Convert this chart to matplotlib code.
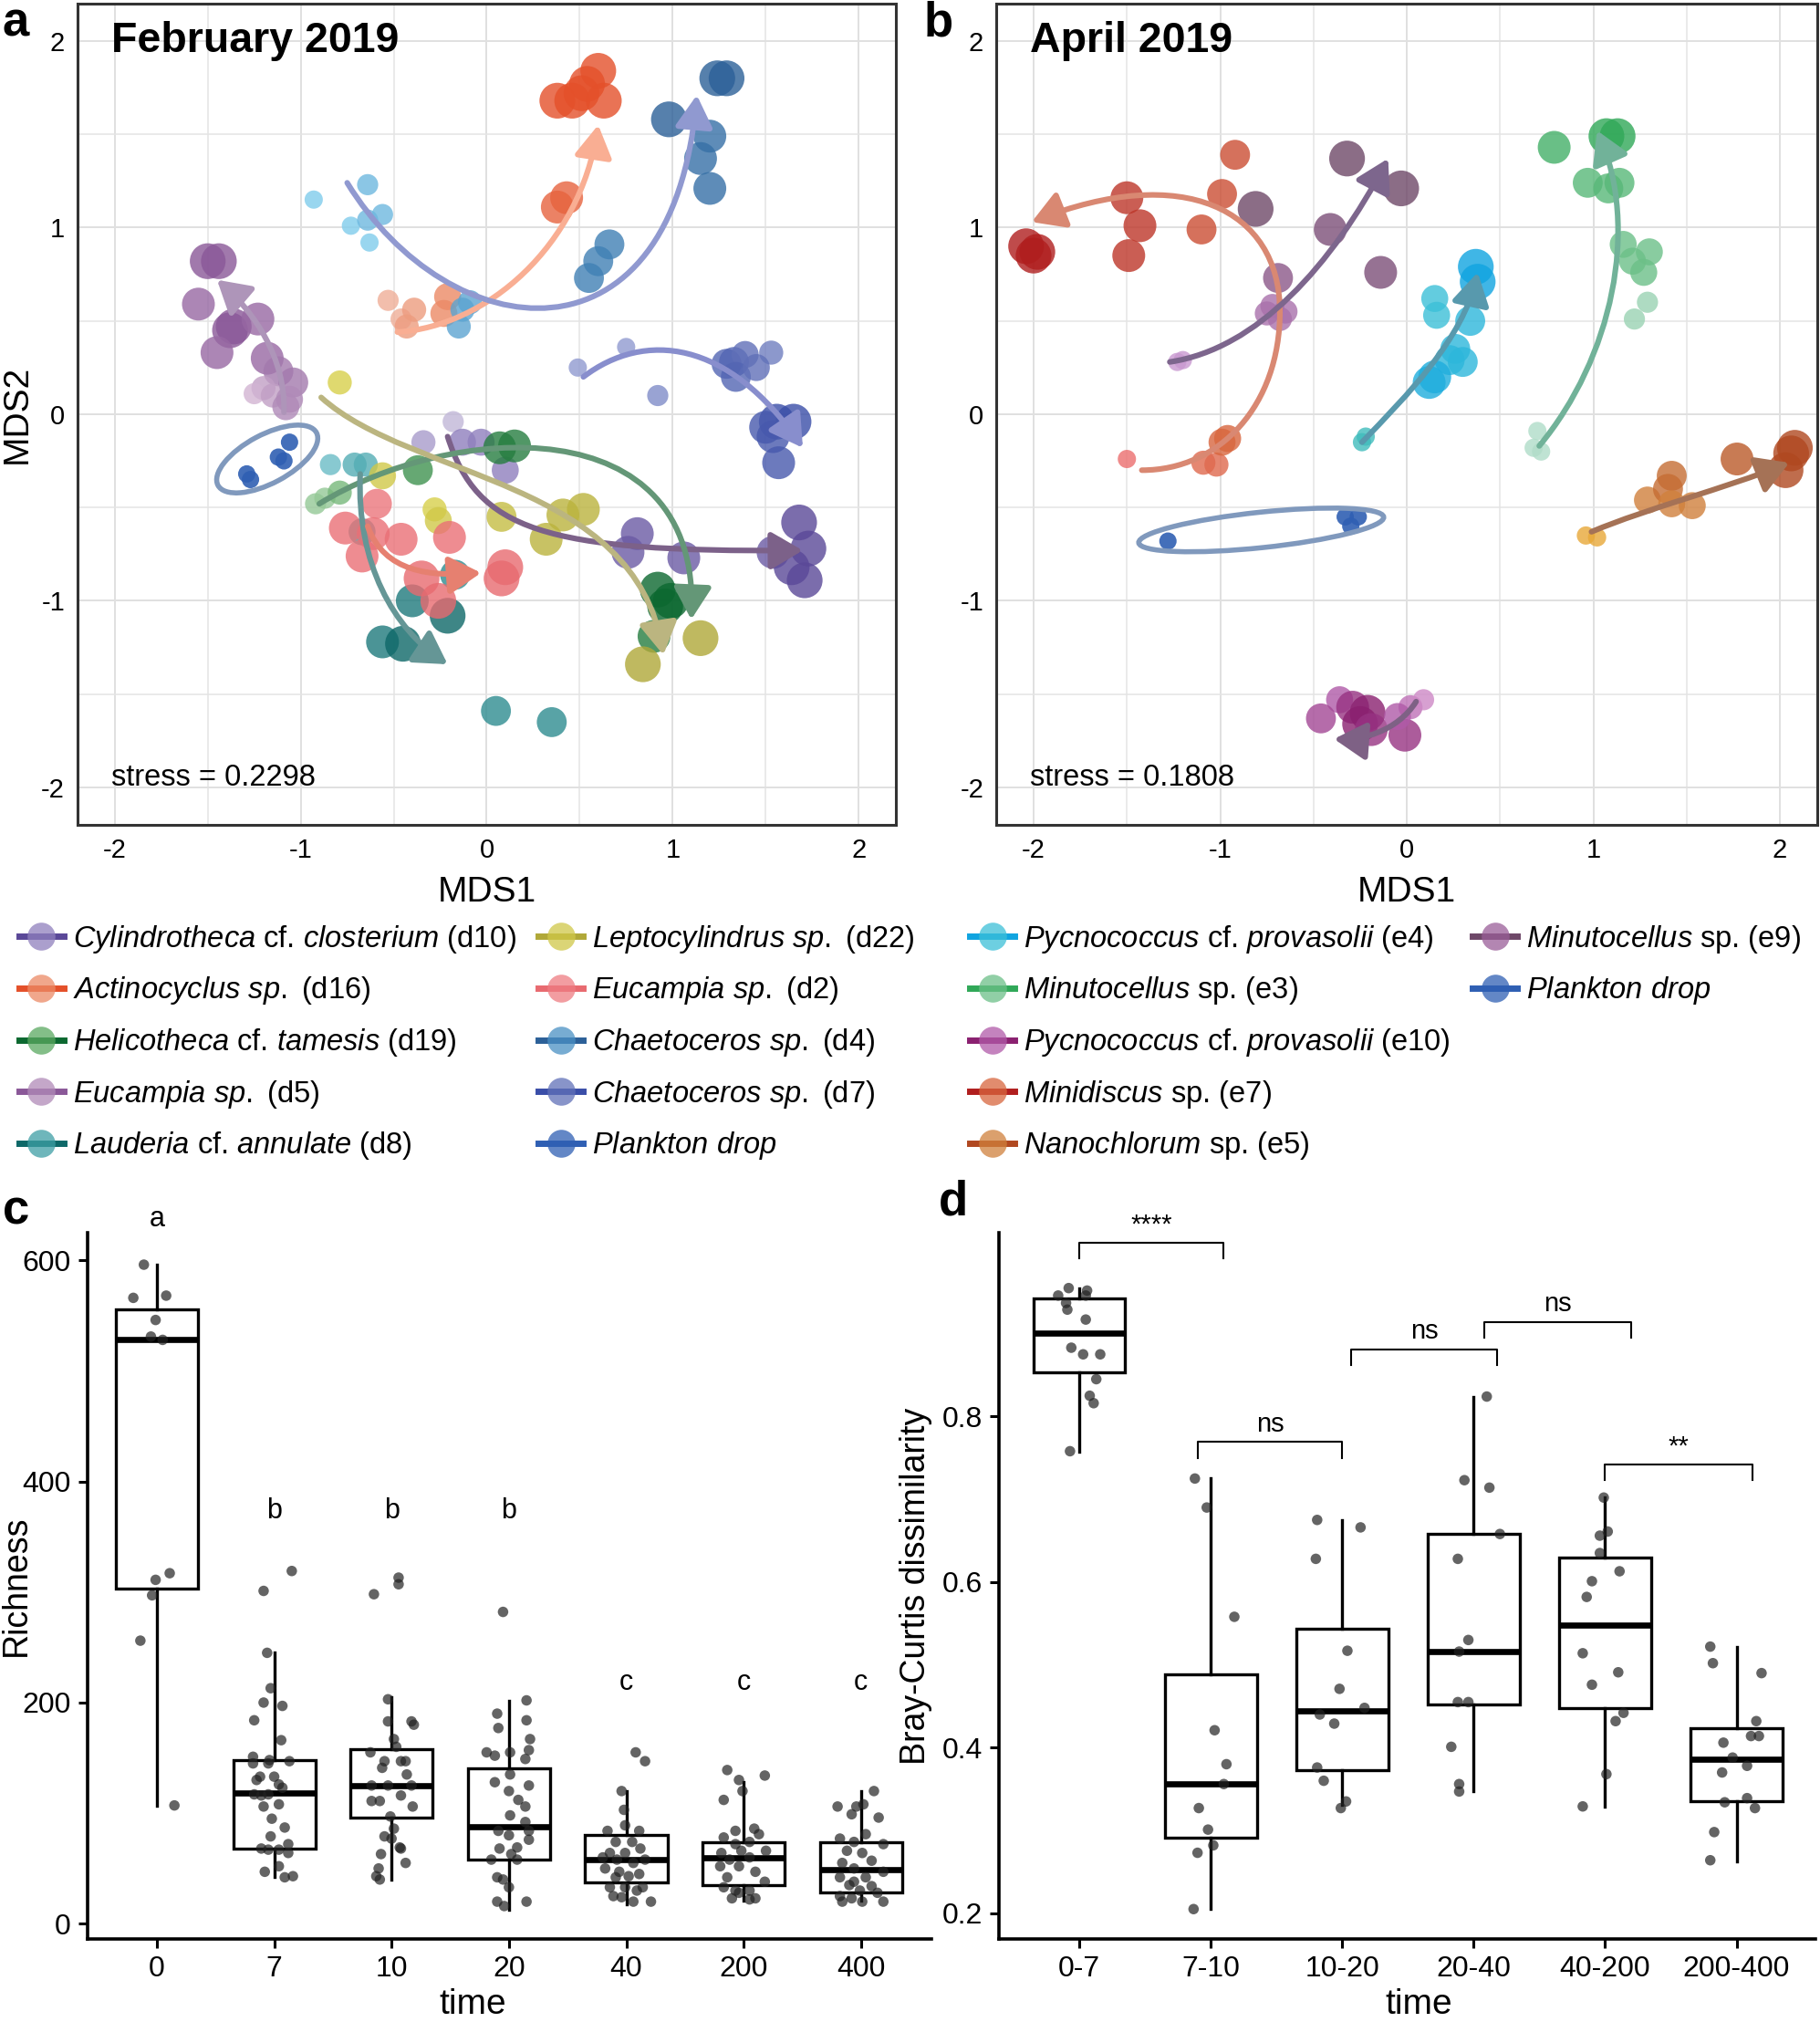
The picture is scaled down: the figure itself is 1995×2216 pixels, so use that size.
import matplotlib
matplotlib.use("Agg")
import matplotlib.pyplot as plt
from matplotlib.colors import LinearSegmentedColormap, to_rgba, to_rgb
from matplotlib.lines import Line2D
from matplotlib.patches import FancyArrowPatch, Ellipse
from matplotlib.path import Path

plt.rcParams["font.family"] = ["Liberation Sans", "DejaVu Sans"]
plt.rcParams["mathtext.fontset"] = "custom"
plt.rcParams["mathtext.rm"] = "Liberation Sans"
plt.rcParams["mathtext.it"] = "Liberation Sans:italic"
plt.rcParams["axes.unicode_minus"] = False

# ---------------- panel a : February 2019 (x, y, time stage 0..6) ----------------
D10_X = [-0.18, -0.34, -0.13, -0.03, 0.10, 0.81, 0.76, 1.06, 1.54, 1.68, 1.73, 1.64, 1.71]
D10_Y = [-0.04, -0.15, -0.15, -0.15, -0.30, -0.64, -0.74, -0.77, -0.74, -0.58, -0.72, -0.82, -0.89]
D10_T = [1, 2, 3, 3, 3, 5, 5, 5, 5, 6, 6, 6, 6]

D16_X = [-0.53, -0.46, -0.43, -0.39, -0.21, -0.23, 0.43, 0.38, 0.60, 0.54, 0.51, 0.46, 0.38, 0.63]
D16_Y = [0.61, 0.51, 0.47, 0.56, 0.63, 0.54, 1.16, 1.11, 1.84, 1.77, 1.72, 1.68, 1.68, 1.68]
D16_T = [1, 1, 2, 2, 3, 3, 5, 5, 6, 6, 6, 6, 6, 6]

D19_X = [-0.92, -0.87, -0.79, -0.37, 0.07, 0.15, 0.92, 0.96, 0.99, 0.90]
D19_Y = [-0.48, -0.45, -0.42, -0.30, -0.18, -0.17, -0.94, -1.03, -1.00, -1.19]
D19_T = [1, 1, 2, 4, 5, 5, 6, 6, 6, 5]

D5_X = [-1.44, -1.50, -1.55, -1.38, -1.36, -1.45, -1.23, -1.18, -1.12, -1.04, -1.20, -1.25, -1.15, -1.06, -1.08]
D5_Y = [0.82, 0.82, 0.59, 0.45, 0.47, 0.33, 0.51, 0.30, 0.23, 0.17, 0.14, 0.11, 0.10, 0.08, 0.04]
D5_T = [6, 6, 5, 6, 6, 5, 5, 5, 4, 4, 2, 1, 2, 3, 3]

D8_X = [-0.84, -0.71, -0.65, -0.67, -0.17, -0.40, -0.56, -0.45, -0.21, 0.05, 0.35]
D8_Y = [-0.27, -0.27, -0.27, -0.63, -0.86, -1.00, -1.22, -1.23, -1.08, -1.59, -1.65]
D8_T = [1, 2, 2, 3, 4, 5, 5, 6, 6, 4, 4]

D22_X = [-0.79, -0.56, -0.28, -0.26, 0.08, 0.32, 0.41, 0.52, 0.84, 1.15]
D22_Y = [0.17, -0.33, -0.51, -0.57, -0.55, -0.67, -0.54, -0.51, -1.34, -1.20]
D22_T = [2, 3, 2, 3, 4, 5, 5, 5, 6, 6]

D2_X = [-0.59, -0.76, -0.61, -0.46, -0.67, -0.20, 0.10, 0.08, -0.35, -0.26]
D2_Y = [-0.48, -0.61, -0.64, -0.67, -0.76, -0.66, -0.82, -0.88, -0.88, -1.00]
D2_T = [4, 5, 5, 5, 5, 5, 6, 6, 6, 6]

D4_X = [-0.93, -0.64, -0.73, -0.64, -0.56, -0.63, -0.13, -0.15, -0.09, 0.55, 0.60, 0.66, 0.98, 1.20, 1.15, 1.20, 1.24, 1.29]
D4_Y = [1.15, 1.23, 1.01, 1.04, 1.07, 0.92, 0.56, 0.47, 0.60, 0.73, 0.82, 0.91, 1.58, 1.49, 1.37, 1.21, 1.80, 1.80]
D4_T = [0, 1, 0, 1, 1, 0, 2, 2, 2, 4, 4, 4, 6, 5, 5, 5, 6, 6]

D7_X = [0.49, 0.75, 0.92, 1.29, 1.33, 1.39, 1.53, 1.34, 1.45, 1.56, 1.65, 1.54, 1.57, 1.50]
D7_Y = [0.25, 0.36, 0.10, 0.27, 0.28, 0.32, 0.33, 0.20, 0.25, -0.04, -0.04, -0.12, -0.26, -0.07]
D7_T = [0, 0, 1, 4, 4, 3, 2, 4, 3, 6, 6, 5, 5, 5]

DROP_A_X = [-1.29, -1.27, -1.12, -1.09, -1.06]
DROP_A_Y = [-0.32, -0.35, -0.23, -0.25, -0.15]

# trajectory arrows (cubic bezier control points)
D10_ARROW = [(-0.21, -0.12), (-0.05, -0.62), (0.30, -0.74), (1.70, -0.73)]
D16_ARROW = [(-0.48, 0.44), (0.0, 0.47), (0.50, 0.90), (0.60, 1.55)]
D19_ARROW = [(-0.90, -0.48), (-0.20, -0.05), (1.15, 0.05), (1.10, -1.10)]
D5_ARROW = [(-1.09, 0.01), (-1.08, 0.30), (-1.25, 0.55), (-1.45, 0.72)]
D8_ARROW = [(-0.68, -0.32), (-0.70, -0.80), (-0.50, -1.15), (-0.21, -1.34)]
D22_ARROW = [(-0.89, 0.09), (-0.40, -0.35), (0.80, -0.35), (0.95, -1.29)]
D2_ARROW = [(-0.64, -0.60), (-0.55, -0.85), (-0.30, -0.87), (-0.03, -0.85)]
D4_ARROW = [(-0.75, 1.24), (-0.20, 0.35), (1.00, 0.20), (1.13, 1.71)]
D7_ARROW = [(0.52, 0.20), (0.85, 0.45), (1.30, 0.40), (1.70, -0.18)]

# ---------------- panel b : April 2019 ----------------
E4_X = [-0.24, -0.22, 0.15, 0.16, 0.34, 0.26, 0.23, 0.12, 0.15, 0.30, 0.37, 0.38]
E4_Y = [-0.15, -0.12, 0.62, 0.53, 0.50, 0.35, 0.29, 0.17, 0.20, 0.28, 0.79, 0.71]
E4_T = [0, 0, 3, 3, 4, 4, 4, 5, 5, 4, 6, 6]

E3_X = [0.68, 0.70, 0.72, 1.22, 1.29, 1.16, 1.30, 1.21, 1.27, 0.97, 1.08, 1.14, 0.79, 1.07, 1.13]
E3_Y = [-0.18, -0.09, -0.20, 0.51, 0.60, 0.91, 0.87, 0.82, 0.76, 1.24, 1.21, 1.24, 1.43, 1.49, 1.49]
E3_T = [0, 0, 0, 1, 1, 3, 3, 3, 3, 4, 4, 4, 5, 6, 6]

E10_X = [-0.36, -0.46, -0.29, -0.21, -0.25, -0.19, -0.01, 0.02, 0.09, -0.05]
E10_Y = [-1.53, -1.63, -1.57, -1.60, -1.66, -1.69, -1.72, -1.57, -1.53, -1.62]
E10_T = [3, 4, 5, 6, 6, 5, 5, 2, 1, 3]

E7_X = [-1.50, -1.09, -1.02, -0.99, -0.96, -0.92, -0.99, -1.10, -1.50, -1.43, -1.49, -2.04, -2.00, -1.98]
E7_Y = [-0.24, -0.26, -0.27, -0.15, -0.13, 1.39, 1.18, 0.99, 1.16, 1.01, 0.85, 0.90, 0.85, 0.87]
E7_T = [0, 2, 2, 3, 3, 4, 4, 4, 5, 5, 5, 6, 6, 6]

E5_X = [0.96, 1.02, 1.29, 1.42, 1.40, 1.42, 1.53, 1.77, 2.06, 2.03, 2.08]
E5_Y = [-0.65, -0.66, -0.46, -0.33, -0.40, -0.48, -0.49, -0.24, -0.21, -0.30, -0.18]
E5_T = [0, 0, 3, 4, 4, 3, 3, 5, 6, 6, 6]

E9_X = [-1.23, -1.20, -0.75, -0.72, -0.68, -0.65, -0.69, -0.81, -0.41, -0.32, -0.03, -0.14]
E9_Y = [0.28, 0.29, 0.54, 0.58, 0.51, 0.55, 0.73, 1.10, 0.99, 1.37, 1.21, 0.76]
E9_T = [0, 0, 2, 2, 2, 2, 4, 6, 5, 6, 6, 5]

DROP_B_X = [-1.28, -0.33, -0.26, -0.30]
DROP_B_Y = [-0.68, -0.55, -0.55, -0.60]

E4_ARROW = [(-0.24, -0.15), (0.0, 0.10), (0.30, 0.40), (0.38, 0.76)]
E3_ARROW = [(0.71, -0.17), (1.10, 0.30), (1.25, 1.00), (1.02, 1.52)]
E10_ARROW = [(0.05, -1.54), (-0.05, -1.70), (-0.25, -1.75), (-0.39, -1.74)]
E7_ARROW = [(-1.42, -0.30), (-1.00, -0.30), (-0.68, 0.05), (-0.68, 0.55),
            (-0.68, 1.10), (-1.20, 1.35), (-2.01, 1.03)]
E5_ARROW = [(0.99, -0.63), (1.30, -0.50), (1.70, -0.40), (2.05, -0.26)]
E9_ARROW = [(-1.27, 0.28), (-0.80, 0.35), (-0.40, 0.80), (-0.10, 1.37)]

# ---------------- panel c : richness ----------------
C_TIMES = ["0", "7", "10", "20", "40", "200", "400"]
C_Q1 = [303, 68, 96, 58, 37, 35, 28]
C_MED = [528, 118.5, 125, 88, 58, 59.5, 49]
C_Q3 = [555.6, 148, 158, 140.5, 80.5, 74, 74]
C_WLO = [107, 42, 40, 13, 18, 20.5, 20.5]
C_WHI = [596, 245, 205, 202, 120, 128, 119.5]
C_LETTERS = ["a", "b", "b", "b", "c", "c", "c"]
C_LETTER_Y = [637, 373, 373, 373, 218, 218, 218]
C_DX = [
    [-0.11, -0.2, 0.08, -0.01, -0.05, 0.05, -0.01, 0.11, -0.04, -0.14, 0.15],
    [-0.09, 0.15, -0.06, -0.03, -0.09, 0.07, -0.17, 0.06, -0.18, -0.04, 0.13, -0.18, -0.12, -0.05, 0.0,
     0.07, -0.17, -0.05, 0.04, -0.09, 0.04, -0.02, 0.09, -0.03, 0.12, -0.11, -0.05, 0.04, 0.12, 0.04,
     -0.08, 0.09, 0.16, -0.15, -0.11],
    [-0.15, 0.06, 0.06, -0.03, -0.03, 0.17, 0.19, 0.02, 0.04, -0.18, -0.06, 0.08, -0.08, -0.17, -0.03,
     0.13, 0.17, 0.12, -0.17, -0.10, 0.08, 0.18, -0.01, 0.02, -0.06, 0.07, -0.09, 0.08, -0.11, 0.12,
     -0.13, -0.10, 0.0],
    [-0.05, 0.15, -0.10, 0.15, -0.09, 0.18, 0.17, -0.19, -0.12, 0.01, 0.14, 0.01, -0.12, 0.0, 0.17,
     0.08, 0.14, 0.01, 0.14, -0.09, 0.0, 0.17, 0.07, -0.08, 0.02, -0.15, 0.07, -0.10, -0.05, 0.0,
     -0.10, -0.04, 0.15, 0.17],
    [0.08, 0.16, -0.04, -0.02, -0.01, -0.16, 0.11, -0.09, 0.05, -0.14, -0.01, 0.12, -0.08, 0.06, 0.16,
     -0.18, -0.06, 0.11, -0.14, -0.01, 0.09, 0.14, -0.11, -0.04, 0.06, 0.21, 0.02, -0.09, -0.2],
    [-0.14, 0.18, -0.04, -0.01, -0.17, -0.07, 0.09, 0.13, -0.17, -0.07, 0.05, -0.19, -0.02, 0.19, -0.12,
     0.05, -0.2, -0.04, 0.10, -0.14, 0.18, -0.17, -0.07, 0.05, -0.10, 0.05, 0.10, -0.04],
    [-0.2, -0.04, 0.02, 0.11, -0.08, 0.15, 0.04, -0.18, -0.06, 0.19, -0.12, 0.01, -0.16, 0.09, -0.06,
     0.19, -0.18, 0.04, -0.10, 0.09, -0.01, -0.18, -0.08, 0.01, 0.14, 0.19, -0.16, -0.06],
]
C_Y = [
    [596, 566, 568, 546, 531, 528, 311, 317, 297, 256, 107],
    [301, 319, 245, 213, 200, 197, 184, 166, 151, 148, 147, 145, 133, 145, 133, 123, 117, 117, 126, 106,
     108, 95, 87, 79, 72, 68, 67, 67, 64, 52, 47, 42, 43, 130, 116],
    [298, 313, 307, 203, 183, 183, 180, 167, 160, 155, 147, 147, 141, 125, 125, 135, 125, 147, 111, 111,
     116, 106, 97, 86, 79, 69, 63, 68, 50, 55, 43, 40, 77],
    [282, 202, 190, 184, 177, 167, 157, 155, 152, 155, 149, 135, 128, 120, 125, 112, 106, 98, 92, 84,
     80, 76, 69, 68, 63, 58, 58, 42, 40, 33, 20, 16, 20, 84],
    [155, 147, 120, 103, 89, 84, 84, 74, 74, 64, 64, 68, 58, 55, 58, 50, 47, 45, 33, 33, 30, 33, 25, 24,
     20, 20, 43, 42, 60],
    [139, 134, 130, 120, 112, 84, 86, 81, 78, 72, 74, 64, 66, 66, 58, 60, 52, 52, 47, 42, 38, 33, 30, 30,
     23, 22, 23, 28],
    [106, 106, 108, 120, 99, 96, 81, 77, 74, 72, 66, 64, 55, 57, 50, 47, 42, 42, 35, 34, 30, 25, 23, 20,
     28, 20, 20, 38],
]

# ---------------- panel d : Bray-Curtis ----------------
D_TIMES = ["0-7", "7-10", "10-20", "20-40", "40-200", "200-400"]
D_Q1 = [0.853, 0.291, 0.373, 0.452, 0.448, 0.335]
D_MED = [0.901, 0.356, 0.444, 0.516, 0.548, 0.386]
D_Q3 = [0.943, 0.489, 0.544, 0.658, 0.629, 0.424]
D_WLO = [0.757, 0.205, 0.331, 0.347, 0.329, 0.263]
D_WHI = [0.955, 0.725, 0.675, 0.824, 0.702, 0.522]
D_DX = [
    [-0.08, -0.16, -0.1, 0.06, 0.05, -0.09, 0.05, -0.06, 0.03, 0.16, 0.13, 0.08, 0.11, -0.07],
    [-0.12, -0.03, 0.18, 0.03, 0.12, 0.10, -0.09, -0.02, 0.02, -0.10, -0.13],
    [-0.19, 0.14, -0.2, 0.04, -0.02, 0.17, -0.17, -0.06, -0.19, -0.14, 0.03, -0.01],
    [0.1, -0.07, 0.12, 0.2, -0.12, -0.04, -0.11, -0.12, -0.04, -0.17, -0.11, -0.11],
    [-0.01, -0.04, 0.02, -0.04, 0.11, -0.1, -0.14, -0.17, 0.1, -0.1, 0.14, 0.08, 0.01, -0.17],
    [-0.2, -0.18, 0.19, 0.15, 0.11, 0.17, -0.1, -0.03, 0.08, -0.11, 0.08, -0.09, 0.14, -0.17, -0.2],
]
D_Y = [
    [0.955, 0.946, 0.937, 0.952, 0.946, 0.929, 0.917, 0.883, 0.875, 0.875, 0.845, 0.825, 0.816, 0.758],
    [0.725, 0.690, 0.558, 0.421, 0.380, 0.356, 0.327, 0.301, 0.282, 0.273, 0.205],
    [0.675, 0.666, 0.628, 0.517, 0.471, 0.448, 0.440, 0.429, 0.376, 0.360, 0.335, 0.327],
    [0.824, 0.723, 0.714, 0.658, 0.628, 0.530, 0.516, 0.455, 0.455, 0.401, 0.356, 0.347],
    [0.702, 0.656, 0.661, 0.635, 0.613, 0.601, 0.582, 0.514, 0.491, 0.476, 0.442, 0.432, 0.368, 0.329],
    [0.522, 0.502, 0.490, 0.432, 0.414, 0.414, 0.406, 0.388, 0.378, 0.370, 0.339, 0.334, 0.327, 0.298, 0.264],
]
BRK_X0 = [0.0, 0.9, 2.07, 3.08, 4.0]
BRK_X1 = [1.1, 2.0, 3.18, 4.2, 5.12]
BRK_Y = [1.010, 0.769, 0.881, 0.914, 0.742]
BRK_TXT = ["****", "ns", "ns", "ns", "**"]


# group definitions: (x, y, stage, arrow, light/mid/dark colours, arrow colour, legend label)
GROUPS_A = [
    (D10_X, D10_Y, D10_T, D10_ARROW, ["#d9d2e6", "#8f7fbd", "#5a4898"], "#5b3a6b",
     r"$\it{Cylindrotheca}$ cf. $\it{closterium}$ (d10)"),
    (D16_X, D16_Y, D16_T, D16_ARROW, ["#f0c0b0", "#ec8a66", "#e4502a"], "#f79a78",
     r"$\it{Actinocyclus\ sp.}$ (d16)"),
    (D19_X, D19_Y, D19_T, D19_ARROW, ["#b0d8b0", "#5aa860", "#0c6830"], "#3d7d55",
     r"$\it{Helicotheca}$ cf. $\it{tamesis}$ (d19)"),
    (D5_X, D5_Y, D5_T, D5_ARROW, ["#e2c8e0", "#b08ab8", "#8a5898"], "#9a7aa8",
     r"$\it{Eucampia\ sp.}$ (d5)"),
    (D8_X, D8_Y, D8_T, D8_ARROW, ["#80cad6", "#3e9ea4", "#0e6868"], "#3e7c7c",
     r"$\it{Lauderia}$ cf. $\it{annulate}$ (d8)"),
    (D22_X, D22_Y, D22_T, D22_ARROW, ["#e8e050", "#d0c848", "#b0a838"], "#aaa260",
     r"$\it{Leptocylindrus\ sp.}$ (d22)"),
    (D2_X, D2_Y, D2_T, D2_ARROW, ["#f29098", "#ee7c82", "#e86a70"], "#e0604c",
     r"$\it{Eucampia\ sp.}$ (d2)"),
    (D4_X, D4_Y, D4_T, D4_ARROW, ["#80ccec", "#4a90c4", "#2c6098"], "#7480c4",
     r"$\it{Chaetoceros\ sp.}$ (d4)"),
    (D7_X, D7_Y, D7_T, D7_ARROW, ["#909ad0", "#6070b8", "#3a4ea8"], "#6a72c0",
     r"$\it{Chaetoceros\ sp.}$ (d7)"),
]
GROUPS_B = [
    (E4_X, E4_Y, E4_T, E4_ARROW, ["#40bcbc", "#3cc0d8", "#10a4e0"], "#2e7f99",
     r"$\it{Pycnococcus}$ cf. $\it{provasolii}$ (e4)"),
    (E3_X, E3_Y, E3_T, E3_ARROW, ["#b0dcc8", "#6cc088", "#30a858"], "#4e9f80",
     r"$\it{Minutocellus}$ sp. (e3)"),
    (E10_X, E10_Y, E10_T, E10_ARROW, ["#dca0d4", "#b05aa8", "#8a2070"], "#5e3a66",
     r"$\it{Pycnococcus}$ cf. $\it{provasolii}$ (e10)"),
    (E7_X, E7_Y, E7_T, E7_ARROW, ["#ec6e6e", "#d8663e", "#b01e1e"], "#d06a4f",
     r"$\it{Minidiscus}$ sp. (e7)"),
    (E5_X, E5_Y, E5_T, E5_ARROW, ["#e8a838", "#d0803c", "#b04820"], "#8e4f2c",
     r"$\it{Nanochlorum}$ sp. (e5)"),
    (E9_X, E9_Y, E9_T, E9_ARROW, ["#c898d0", "#9a5e98", "#6e4868"], "#5c4070",
     r"$\it{Minutocellus}$ sp. (e9)"),
]
DROP_COLOR = "#2f5fb3"
DROP_LABEL = r"$\it{Plankton\ drop}$"

PX = 0.72  # points per pixel at dpi 100


def soften(color, a=0.8):
    r, g, b = to_rgb(color)
    return (1 - a + a * r, 1 - a + a * g, 1 - a + a * b)


def draw_arrow(ax, pts, color):
    codes = [Path.MOVETO] + [Path.CURVE4] * (len(pts) - 1)
    arr = FancyArrowPatch(path=Path(pts, codes),
                          arrowstyle="-|>,head_length=0.85,head_width=0.5",
                          mutation_scale=25, lw=4.4, color=soften(color),
                          transform=ax.transData, zorder=5)
    ax.add_patch(arr)


def mds_panel(ax, groups, drop_x, drop_y, ellipse, title, stress):
    for gx, gy, gt, arrow, cols, acol, _ in groups:
        cmap = LinearSegmentedColormap.from_list("g", cols)
        sizes = [((20 + 3.2 * t) * PX) ** 2 for t in gt]
        ax.scatter(gx, gy, s=sizes, c=[cmap(t / 6) for t in gt], alpha=0.8,
                   edgecolors="none", zorder=3)
        draw_arrow(ax, arrow, acol)
    ax.scatter(drop_x, drop_y, s=(19 * PX) ** 2, c=DROP_COLOR, alpha=0.9,
               edgecolors="none", zorder=3)
    ax.add_patch(Ellipse(ellipse[0], ellipse[1], ellipse[2], angle=ellipse[3],
                         fill=False, ec="#8099bd", lw=4, zorder=4))
    ax.set_xlim(-2.2, 2.2)
    ax.set_ylim(-2.2, 2.2)
    ax.set_xticks([-2, -1, 0, 1, 2])
    ax.set_yticks([-2, -1, 0, 1, 2])
    ax.set_xticks([-1.5, -0.5, 0.5, 1.5], minor=True)
    ax.set_yticks([-1.5, -0.5, 0.5, 1.5], minor=True)
    ax.grid(True, which="major", color="#e0e0e0", lw=1.4, zorder=0)
    ax.grid(True, which="minor", color="#e4e4e4", lw=1.1, zorder=0)
    ax.set_axisbelow(True)
    ax.tick_params(which="both", length=0, labelsize=21, pad=10)
    for sp in ax.spines.values():
        sp.set_color("#333333")
        sp.set_linewidth(2.2)
    ax.text(-2.02, 2.0, title, fontsize=33.5, fontweight="bold", va="center", ha="left")
    ax.text(-2.02, -1.95, stress, fontsize=23.5, va="center", ha="left")
    ax.set_xlabel("MDS1", fontsize=28)
    ax.xaxis.set_label_coords(0.5, -0.082)
    ax.xaxis.label.set_verticalalignment("center")


def legend_handles(groups, n_pad=0):
    hs, labels = [], []
    for _, _, _, _, cols, _, lab in groups:
        hs.append(Line2D([], [], color=cols[2], lw=5, marker="o", markersize=22,
                         markerfacecolor=to_rgba(cols[1], 0.75), markeredgecolor="none"))
        labels.append(lab)
    hs.append(Line2D([], [], color=DROP_COLOR, lw=5, marker="o", markersize=22,
                     markerfacecolor=to_rgba(DROP_COLOR, 0.75), markeredgecolor="none"))
    labels.append(DROP_LABEL)
    for _ in range(n_pad):
        hs.append(Line2D([], [], alpha=0))
        labels.append(" ")
    return hs, labels


def box_panel(ax, q1, med, q3, wlo, whi, dx, ys):
    stats = []
    for i in range(len(med)):
        stats.append({"q1": q1[i], "med": med[i], "q3": q3[i], "whislo": wlo[i],
                      "whishi": whi[i], "fliers": []})
    ax.bxp(stats, positions=range(len(med)), widths=0.7, showfliers=False, showcaps=False,
           patch_artist=True,
           boxprops=dict(facecolor="white", edgecolor="black", lw=2.4),
           medianprops=dict(color="black", lw=4.8),
           whiskerprops=dict(color="black", lw=2.4), zorder=2)
    for i in range(len(med)):
        ax.scatter([i + d for d in dx[i]], ys[i], s=(11.5 * PX) ** 2, c="#222222",
                   alpha=0.7, edgecolors="none", zorder=3)
    for side in ["top", "right"]:
        ax.spines[side].set_visible(False)
    for side in ["left", "bottom"]:
        ax.spines[side].set_linewidth(2.6)
    ax.tick_params(length=7, width=2.2, labelsize=23, pad=6)


fig = plt.figure(figsize=(19.95, 22.16), dpi=100)

ax_a = fig.add_axes([0.0426, 0.5921, 0.4496, 0.4061])
mds_panel(ax_a, GROUPS_A, DROP_A_X, DROP_A_Y, ((-1.18, -0.24), 0.60, 0.26, 28),
          "February 2019", "stress = 0.2298")
ax_a.set_ylabel("MDS2", fontsize=28)
ax_a.yaxis.set_label_coords(-0.054, 0.5)

ax_b = fig.add_axes([0.5474, 0.5921, 0.4511, 0.4061])
mds_panel(ax_b, GROUPS_B, DROP_B_X, DROP_B_Y, ((-0.78, -0.62), 1.32, 0.19, 6),
          "April 2019", "stress = 0.1808")

leg_kw = dict(ncol=2, frameon=False, fontsize=23.5, handlelength=1.5, handletextpad=0.3,
              columnspacing=0.75, labelspacing=0.665, borderpad=0, borderaxespad=0,
              loc="upper left")
h, l = legend_handles(GROUPS_A)
fig.legend(h, l, bbox_to_anchor=(0.0105, 0.5435), **leg_kw)
h, l = legend_handles(GROUPS_B, n_pad=3)
fig.legend(h, l, bbox_to_anchor=(0.533, 0.5435), **leg_kw)

# panel c
ax_c = fig.add_axes([0.0481, 0.0411, 0.4637, 0.3493])
box_panel(ax_c, C_Q1, C_MED, C_Q3, C_WLO, C_WHI, C_DX, C_Y)
ax_c.set_xlim(-0.59, 6.6)
ax_c.set_ylim(-13.7, 625)
ax_c.set_xticks(range(len(C_TIMES)))
ax_c.set_xticklabels(C_TIMES)
ax_c.set_yticks([0, 200, 400, 600])
ax_c.set_ylabel("Richness", fontsize=27)
ax_c.yaxis.set_label_coords(-0.065, 0.5)
for i, (lt, ly) in enumerate(zip(C_LETTERS, C_LETTER_Y)):
    ax_c.text(i, ly, lt, fontsize=22, ha="center", va="center", clip_on=False)

# panel d
ax_d = fig.add_axes([0.5489, 0.0411, 0.4486, 0.3493])
box_panel(ax_d, D_Q1, D_MED, D_Q3, D_WLO, D_WHI, D_DX, D_Y)
ax_d.set_xlim(-0.61, 5.6)
ax_d.set_ylim(0.169, 1.022)
ax_d.set_xticks(range(len(D_TIMES)))
ax_d.set_xticklabels(D_TIMES)
ax_d.set_yticks([0.2, 0.4, 0.6, 0.8])
ax_d.set_ylabel("Bray-Curtis dissimilarity", fontsize=27)
ax_d.yaxis.set_label_coords(-0.082, 0.5)
for x0, x1, yb, txt in zip(BRK_X0, BRK_X1, BRK_Y, BRK_TXT):
    ax_d.plot([x0, x0, x1, x1], [yb - 0.019, yb, yb, yb - 0.019], color="black", lw=1.5,
              clip_on=False)
    ax_d.text((x0 + x1) / 2, yb + 0.006, txt, fontsize=21, ha="center", va="bottom",
              clip_on=False)

fig.text(518 / 1995, 1 - 2197 / 2216, "time", fontsize=28, ha="center", va="center")
fig.text(1555 / 1995, 1 - 2197 / 2216, "time", fontsize=28, ha="center", va="center")

for lab, px, py in [("a", 3, 25), ("b", 1013, 25), ("c", 3, 1328), ("d", 1029, 1317)]:
    fig.text(px / 1995, 1 - py / 2216, lab, fontsize=38, fontweight="bold",
             ha="left", va="center")

fig.savefig("out.png", dpi=100)
